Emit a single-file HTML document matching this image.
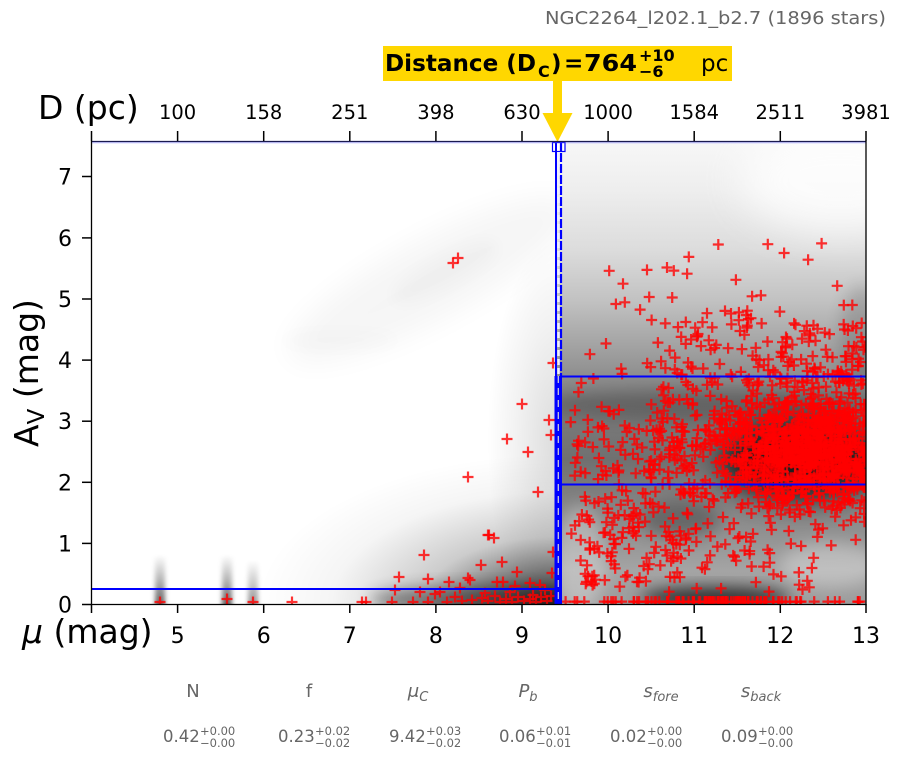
<!DOCTYPE html>
<html><head><meta charset="utf-8"><style>
html,body{margin:0;padding:0;background:#fff;}
svg{display:block;font-family:"DejaVu Sans","Liberation Sans",sans-serif;}
</style></head><body>
<svg id="s" width="902" height="759" viewBox="0 0 902 759" xmlns="http://www.w3.org/2000/svg">
<defs>
 <clipPath id="cp"><rect x="91" y="142" width="775" height="462"/></clipPath>
 <clipPath id="cl"><rect x="91" y="142" width="465" height="462"/></clipPath>
 <clipPath id="cr"><rect x="556" y="142" width="310" height="462"/></clipPath>
 <filter id="b20" x="-50%" y="-50%" width="200%" height="200%"><feGaussianBlur stdDeviation="20"/></filter>
 <filter id="b14" x="-50%" y="-50%" width="200%" height="200%"><feGaussianBlur stdDeviation="14"/></filter>
 <filter id="b8" x="-50%" y="-50%" width="200%" height="200%"><feGaussianBlur stdDeviation="8"/></filter>
 <filter id="b3" x="-80%" y="-20%" width="260%" height="140%"><feGaussianBlur stdDeviation="2.5 1"/></filter>
 <linearGradient id="rg" x1="0" y1="142" x2="0" y2="604" gradientUnits="userSpaceOnUse">
  <stop offset="0" stop-color="#f7f7f7"/>
  <stop offset="0.104" stop-color="#eeeeee"/>
  <stop offset="0.234" stop-color="#dcdcdc"/>
  <stop offset="0.342" stop-color="#c2c2c2"/>
  <stop offset="0.45" stop-color="#a0a0a0"/>
  <stop offset="0.558" stop-color="#7e7e7e"/>
  <stop offset="0.688" stop-color="#707070"/>
  <stop offset="0.818" stop-color="#8a8a8a"/>
  <stop offset="0.926" stop-color="#a4a4a4"/>
  <stop offset="1" stop-color="#9c9c9c"/>
 </linearGradient>
 <radialGradient id="ra">
  <stop offset="0" stop-color="#000" stop-opacity="0.8"/>
  <stop offset="0.2" stop-color="#000" stop-opacity="0.55"/>
  <stop offset="0.45" stop-color="#000" stop-opacity="0.2"/>
  <stop offset="0.75" stop-color="#000" stop-opacity="0.04"/>
  <stop offset="1" stop-color="#000" stop-opacity="0"/>
 </radialGradient>
 <radialGradient id="rb">
  <stop offset="0" stop-color="#000" stop-opacity="0.14"/>
  <stop offset="0.6" stop-color="#000" stop-opacity="0.05"/>
  <stop offset="1" stop-color="#000" stop-opacity="0"/>
 </radialGradient>
 <linearGradient id="st" x1="0" y1="0" x2="0" y2="1">
  <stop offset="0" stop-color="#000" stop-opacity="0"/>
  <stop offset="0.5" stop-color="#000" stop-opacity="0.3"/>
  <stop offset="1" stop-color="#000" stop-opacity="0.65"/>
 </linearGradient>
</defs>

<!-- title -->
<text x="545" y="24" font-size="18" fill="#666" textLength="341" lengthAdjust="spacingAndGlyphs">NGC2264_l202.1_b2.7 (1896 stars)</text>

<!-- distance box -->
<rect x="383" y="46" width="349" height="35" fill="#FFD700"/>
<text x="385" y="71" font-size="23" font-weight="bold" fill="#000" textLength="151" lengthAdjust="spacingAndGlyphs">Distance (D</text>
<text x="538" y="77" font-size="16" font-weight="bold" fill="#000">C</text>
<text x="551" y="71" font-size="23" font-weight="bold" fill="#000">)</text>
<text x="564" y="71" font-size="23" font-weight="bold" fill="#000">=</text>
<text x="584" y="71" font-size="23" font-weight="bold" fill="#000" textLength="53" lengthAdjust="spacingAndGlyphs">764</text>
<text x="639" y="61" font-size="16" font-weight="bold" fill="#000">+10</text>
<text x="639" y="77" font-size="16" font-weight="bold" fill="#000">−6</text>
<text x="701" y="71" font-size="23" fill="#000">pc</text>
<!-- arrow -->
<rect x="553" y="81" width="9" height="33" fill="#FFD700"/>
<polygon points="542.5,113 572.5,113 557.5,142" fill="#FFD700"/>

<!-- heatmap left -->
<g clip-path="url(#cl)">
 <rect x="91" y="142" width="465" height="462" fill="#fff"/>
 <ellipse cx="430" cy="280" rx="160" ry="40" fill="#000" opacity="0.035" filter="url(#b14)" transform="rotate(-28 430 280)"/>
 <ellipse cx="445" cy="272" rx="60" ry="16" fill="#000" opacity="0.025" filter="url(#b8)" transform="rotate(-28 445 272)"/>
 <ellipse cx="340" cy="340" rx="60" ry="10" fill="#000" opacity="0.012" filter="url(#b8)"/>
 <ellipse cx="557" cy="604" rx="300" ry="150" fill="url(#ra)"/>
 <ellipse cx="557" cy="440" rx="70" ry="200" fill="url(#rb)"/>
 <ellipse cx="480" cy="600" rx="110" ry="14" fill="#000" opacity="0.45" filter="url(#b8)"/>
 <rect x="155" y="555" width="10" height="52" fill="url(#st)" filter="url(#b3)"/>
 <rect x="222" y="555" width="10" height="52" fill="url(#st)" filter="url(#b3)"/>
 <rect x="248" y="560" width="10" height="47" fill="url(#st)" filter="url(#b3)" opacity="0.7"/>
</g>

<!-- heatmap right -->
<g clip-path="url(#cr)">
 <rect x="556" y="142" width="310" height="462" fill="url(#rg)"/>
 <ellipse cx="840" cy="180" rx="100" ry="55" fill="#fff" opacity="0.8" filter="url(#b20)"/>
 <ellipse cx="800" cy="460" rx="80" ry="40" fill="#000" opacity="0.75" filter="url(#b14)"/>
 <ellipse cx="710" cy="405" rx="170" ry="16" fill="#000" opacity="0.2" filter="url(#b8)"/>
 <ellipse cx="680" cy="520" rx="40" ry="18" fill="#000" opacity="0.25" filter="url(#b8)"/>
 <ellipse cx="715" cy="598" rx="75" ry="11" fill="#000" opacity="0.7" filter="url(#b8)"/>
 <ellipse cx="862" cy="335" rx="22" ry="50" fill="#000" opacity="0.15" filter="url(#b8)"/>
 <ellipse cx="580" cy="560" rx="25" ry="55" fill="#fff" opacity="0.3" filter="url(#b8)"/>
 <ellipse cx="830" cy="565" rx="50" ry="22" fill="#fff" opacity="0.3" filter="url(#b8)"/>
</g>

<!-- markers -->
<g id="mg" clip-path="url(#cp)" fill="none" stroke="#ff0000" stroke-opacity="0.8" stroke-width="2.2"></g>

<!-- blue lines -->
<line x1="91" y1="589" x2="556" y2="589" stroke="#0000ff" stroke-width="2"/>
<line x1="561" y1="376.5" x2="866" y2="376.5" stroke="#0000ff" stroke-width="2"/>
<line x1="561" y1="484.5" x2="866" y2="484.5" stroke="#0000ff" stroke-width="2"/>
<rect x="552.5" y="142.5" width="12.5" height="9" fill="#fff" stroke="#0000ff" stroke-width="1.2"/>
<line x1="556" y1="142" x2="556" y2="376" stroke="#0000ff" stroke-width="2"/>
<line x1="561" y1="142" x2="561" y2="376" stroke="#0000ff" stroke-width="2.2" stroke-dasharray="9 2"/>
<line x1="558.5" y1="152" x2="558.5" y2="376" stroke="#eeeeff" stroke-width="2.5" stroke-dasharray="6 3"/>
<rect x="554.5" y="376" width="7.5" height="228" fill="#0000ff"/>
<line x1="558.3" y1="376" x2="558.3" y2="604" stroke="#c8c8d8" stroke-width="1.3" stroke-dasharray="7 5"/>

<!-- spines -->
<line x1="91" y1="141.5" x2="866" y2="141.5" stroke="#1a1a50" stroke-width="1.3"/>
<line x1="91" y1="142.8" x2="866" y2="142.8" stroke="#6666ff" stroke-width="0.8" opacity="0.5"/>
<line x1="91.5" y1="141" x2="91.5" y2="604.5" stroke="#000" stroke-width="1.3"/>
<line x1="866" y1="141" x2="866" y2="604.5" stroke="#000" stroke-width="1.3"/>
<line x1="91" y1="604.5" x2="866.6" y2="604.5" stroke="#000" stroke-width="1.3"/>

<!-- ticks -->
<g stroke="#000" stroke-width="1.5">
 <line x1="91.5" y1="131" x2="91.5" y2="141"/>
 <line x1="177.6" y1="131" x2="177.6" y2="141"/>
 <line x1="263.7" y1="131" x2="263.7" y2="141"/>
 <line x1="349.8" y1="131" x2="349.8" y2="141"/>
 <line x1="435.9" y1="131" x2="435.9" y2="141"/>
 <line x1="522" y1="131" x2="522" y2="141"/>
 <line x1="608.1" y1="131" x2="608.1" y2="141"/>
 <line x1="694.2" y1="131" x2="694.2" y2="141"/>
 <line x1="780.3" y1="131" x2="780.3" y2="141"/>
 <line x1="866" y1="131" x2="866" y2="141"/>

 <line x1="91.5" y1="604" x2="91.5" y2="613"/>
 <line x1="177.6" y1="604" x2="177.6" y2="613"/>
 <line x1="263.7" y1="604" x2="263.7" y2="613"/>
 <line x1="349.8" y1="604" x2="349.8" y2="613"/>
 <line x1="435.9" y1="604" x2="435.9" y2="613"/>
 <line x1="522" y1="604" x2="522" y2="613"/>
 <line x1="608.1" y1="604" x2="608.1" y2="613"/>
 <line x1="694.2" y1="604" x2="694.2" y2="613"/>
 <line x1="780.3" y1="604" x2="780.3" y2="613"/>
 <line x1="866" y1="604" x2="866" y2="613"/>

 <line x1="82" y1="604.5" x2="91" y2="604.5"/>
 <line x1="82" y1="543.4" x2="91" y2="543.4"/>
 <line x1="82" y1="482.3" x2="91" y2="482.3"/>
 <line x1="82" y1="421.2" x2="91" y2="421.2"/>
 <line x1="82" y1="360.1" x2="91" y2="360.1"/>
 <line x1="82" y1="299" x2="91" y2="299"/>
 <line x1="82" y1="237.9" x2="91" y2="237.9"/>
 <line x1="82" y1="176.5" x2="91" y2="176.5"/>
</g>

<!-- top tick labels -->
<g font-size="19.5" fill="#000" text-anchor="middle">
 <text x="177.6" y="119">100</text>
 <text x="263.7" y="119">158</text>
 <text x="349.8" y="119">251</text>
 <text x="435.9" y="119">398</text>
 <text x="522" y="119">630</text>
 <text x="608.1" y="119">1000</text>
 <text x="694.2" y="119">1584</text>
 <text x="780.3" y="119">2511</text>
 <text x="866" y="119">3981</text>
</g>
<text x="38" y="119" font-size="33" fill="#000">D (pc)</text>

<!-- bottom tick labels -->
<g font-size="22" fill="#000" text-anchor="middle">
 <text x="177.6" y="643">5</text>
 <text x="263.7" y="643">6</text>
 <text x="349.8" y="643">7</text>
 <text x="435.9" y="643">8</text>
 <text x="522" y="643">9</text>
 <text x="608.1" y="643">10</text>
 <text x="694.2" y="643">11</text>
 <text x="780.3" y="643">12</text>
 <text x="866" y="643">13</text>
</g>
<text x="22" y="643" font-size="33" fill="#000"><tspan font-style="italic">μ</tspan> (mag)</text>

<!-- left tick labels -->
<g font-size="22" fill="#000" text-anchor="end">
 <text x="72" y="612.5">0</text>
 <text x="72" y="551.4">1</text>
 <text x="72" y="490.3">2</text>
 <text x="72" y="429.2">3</text>
 <text x="72" y="368.1">4</text>
 <text x="72" y="307">5</text>
 <text x="72" y="245.9">6</text>
 <text x="72" y="184.5">7</text>
</g>
<text transform="translate(38 373) rotate(-90)" font-size="33" fill="#000" text-anchor="middle">A<tspan font-size="23" dy="6">V</tspan><tspan dy="-6"> (mag)</tspan></text>

<!-- parameter table -->
<g fill="#666" font-size="18" text-anchor="middle">
 <text x="193" y="697">N</text>
 <text x="309" y="697">f</text>
 <text x="418" y="697"><tspan font-style="italic">μ</tspan><tspan font-size="13" dy="4" font-style="italic">C</tspan></text>
 <text x="528" y="697"><tspan font-style="italic">P</tspan><tspan font-size="13" dy="4" font-style="italic">b</tspan></text>
 <text x="661" y="697"><tspan font-style="italic">s</tspan><tspan font-size="13" dy="4" font-style="italic">fore</tspan></text>
 <text x="761" y="697"><tspan font-style="italic">s</tspan><tspan font-size="13" dy="4" font-style="italic">back</tspan></text>
</g>
<g fill="#666" font-size="16.5">
 <text x="163" y="742">0.42</text><text x="200" y="735" font-size="11.5">+0.00</text><text x="200" y="747" font-size="11.5">−0.00</text>
 <text x="278" y="742">0.23</text><text x="315" y="735" font-size="11.5">+0.02</text><text x="315" y="747" font-size="11.5">−0.02</text>
 <text x="389" y="742">9.42</text><text x="426" y="735" font-size="11.5">+0.03</text><text x="426" y="747" font-size="11.5">−0.02</text>
 <text x="499" y="742">0.06</text><text x="536" y="735" font-size="11.5">+0.01</text><text x="536" y="747" font-size="11.5">−0.01</text>
 <text x="610" y="742">0.02</text><text x="647" y="735" font-size="11.5">+0.00</text><text x="647" y="747" font-size="11.5">−0.00</text>
 <text x="721" y="742">0.09</text><text x="758" y="735" font-size="11.5">+0.00</text><text x="758" y="747" font-size="11.5">−0.00</text>
</g>
</svg>
<script>
(function(){
 var seed=24680;
 function R(){seed|=0;seed=seed+0x6D2B79F5|0;var t=Math.imul(seed^seed>>>15,1|seed);t=t+Math.imul(t^t>>>7,61|t)^t;return((t^t>>>14)>>>0)/4294967296;}
 function N(){var u=R()||1e-9,v=R();return Math.sqrt(-2*Math.log(u))*Math.cos(2*Math.PI*v);}
 function X(m){return 91+(m-4)*775/9;}
 function Y(a){return 604-a*61.14;}
 var pts=[];
 function add(m,a){if(m<9.5||m>13.05||a<0.02||a>6.2)return false;pts.push([X(m),Y(a)]);return true;}
 function gen(n,f){var c=0,g=0;while(c<n&&g<n*50){g++;var p=f();if(add(p[0],p[1]))c++;}}
 gen(700,function(){return [12.3+0.5*N(),2.5+0.45*N()];});
 gen(480,function(){return [10.0+3*Math.sqrt(R()),2.7+0.65*N()];});
 gen(110,function(){return [10.3+2.7*Math.sqrt(R()),3.6+1.0*R()];});
 gen(35,function(){return [9.7+3.3*R(),4.6+1.6*Math.pow(R(),1.5)];});
 gen(170,function(){return [9.55+1.5*R(),2.2+0.8*N()];});
 gen(120,function(){return [9.6+2.8*Math.pow(R(),1.3),0.2+1.3*R()];});
 gen(110,function(){return [R()<0.7?11.3+0.6*N():9.5+3.5*R(),0.04];});
 var left=[[453,263],[458,258],[522,404],[507,439],[528,452],[468,477],[538,492],[551,435],[553,363],[549,420],
 [489,535],[494,538],[488,535],[424,555],[481,565],[502,562],[517,572],[399,577],[428,579],[449,582],[468,578],[470,580],
 [497,582],[503,582],[530,583],[552,573],[553,552],[160,602],[227,599],[253,602],[292,602],[362,602],[366,602],[392,602],
 [413,602],[428,602],[447,602],[472,600],[440,592],[533,595],[482,598],[488,601],[495,596],[500,602],[506,599],[512,602],
 [518,597],[524,601],[530,599],[536,602],[541,597],[547,601],[551,596],[485,593],[545,590],[510,592],[455,597],[462,601],
 [435,594],[420,592],[395,590],[515,586],[540,585],[460,588]];
 pts=pts.concat(left);
 var s=[];
 for(var i=0;i<pts.length;i++){var x=pts[i][0],y=pts[i][1];
  s.push('<path d="M'+(x-5.5).toFixed(1)+' '+y.toFixed(1)+'h11M'+x.toFixed(1)+' '+(y-5.5).toFixed(1)+'v11"/>');}
 document.getElementById('mg').innerHTML=s.join('');
})();
</script>
</body></html>
